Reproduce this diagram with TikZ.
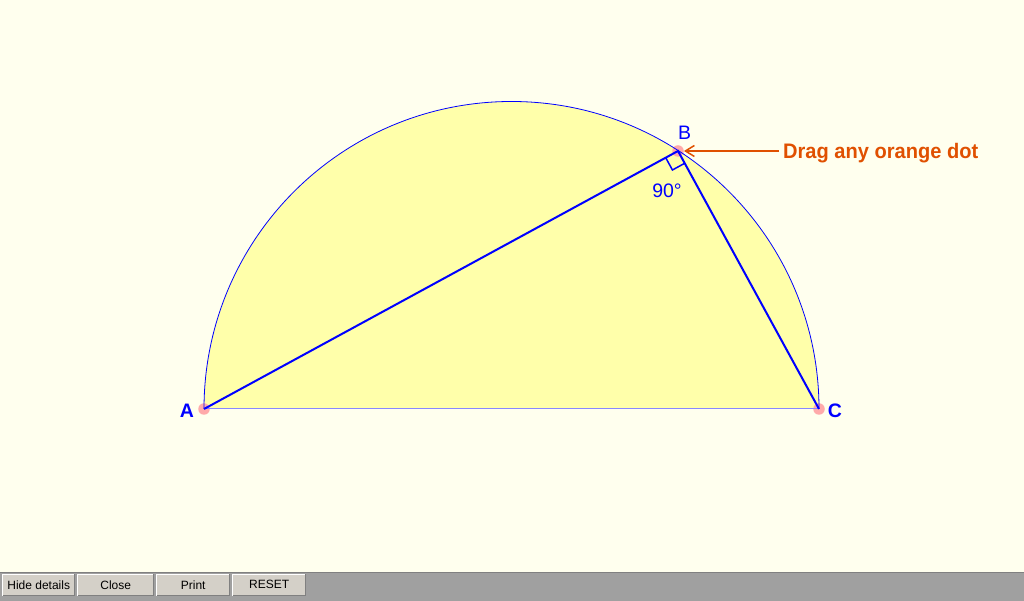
\documentclass[tikz,border=0pt]{standalone}
\usepackage{fontspec}
\setmainfont{Liberation Sans}
\usetikzlibrary{calc,arrows.meta}
\definecolor{bgc}{RGB}{255,255,238}
\definecolor{semi}{RGB}{255,255,170}
\definecolor{dotc}{RGB}{255,170,170}
\definecolor{basec}{RGB}{136,136,255}
\definecolor{orangec}{RGB}{224,80,0}
\definecolor{barc}{RGB}{160,160,160}
\definecolor{btnc}{RGB}{212,208,200}
\definecolor{btndark}{RGB}{128,128,128}
\tikzset{
  dragdot/.style={circle,fill=dotc,minimum size=11.5pt,inner sep=0pt},
  side/.style={draw=blue,line width=2pt},
  lbl/.style={text=blue,font=\fontsize{19.5}{22}\selectfont,inner sep=0pt},
  blbl/.style={text=blue,font=\bfseries\fontsize{19.5}{22}\selectfont,inner sep=0pt},
  btn/.style={fill=btnc,draw=none,minimum height=22pt,inner sep=0pt,font=\fontsize{12}{14}\selectfont}
}
\begin{document}
\begin{tikzpicture}[x=1pt,y=1pt]
\useasboundingbox (0,0) rectangle (1024,601);
\fill[bgc] (0,0) rectangle (1024,601);
% bottom bar
\fill[barc] (0,0) rectangle (1024,29);
\draw[btndark,line width=1pt] (0,28.5) -- (1024,28.5);
\foreach \xa/\xb/\t/\n in {2/75/Hide details/b1,77/154/Close/b2,156/230/Print/b3,232/306/RESET/b4}{
  \node[btn,minimum width={(\xb-\xa)*1pt},anchor=south west] (\n) at (\xa,5) {\t};
  \draw[white,line width=1pt] (\xa+0.5,5) -- (\xa+0.5,26.5) -- (\xb,26.5);
  \draw[btndark,line width=1pt] (\xa+0.5,5.5) -- (\xb-0.5,5.5) -- (\xb-0.5,26.5);
}
% geometry
\coordinate (A) at (204,192);
\coordinate (C) at (819,192);
\coordinate (B) at (678,450);
\fill[semi] (A) arc[start angle=180,end angle=0,radius=307.5pt] -- cycle;
\node[dragdot] (Ad) at (A) {};
\node[dragdot] (Bd) at (B) {};
\node[dragdot] (Cd) at (C) {};
\draw[blue,line width=0.8pt] (A) arc[start angle=180,end angle=0,radius=307.5pt];
\draw[basec,line width=1pt] (A) -- (C);
\draw[side] (A) -- (B) -- (C);
\draw[blue,line width=1.5pt] ($(B)!14pt!(A)$) -- ($($(B)!14pt!(A)$)+($(B)!14pt!(C)$)-(B)$) -- ($(B)!14pt!(C)$);
% labels
\node[lbl,anchor=base] (lB) at (684.5,461) {B};
\node[lbl,anchor=base] (l90) at (667,403) {90°};
\node[blbl,anchor=base] (lA) at (187,183) {A};
\node[blbl,anchor=base] (lC) at (835,183) {C};
% drag hint
\node[text=orangec,font=\bfseries\fontsize{21}{23}\selectfont,anchor=base west,inner sep=0pt] (hint) at (783,442.7) {\scalebox{0.955}[1]{Drag any orange dot}};
\coordinate (hs) at (779,450);
\draw[orangec,line width=1.8pt,-{Straight Barb[length=9pt,width=11pt,line width=1.5pt]}] (hs) -- (Bd);
\end{tikzpicture}
\end{document}
